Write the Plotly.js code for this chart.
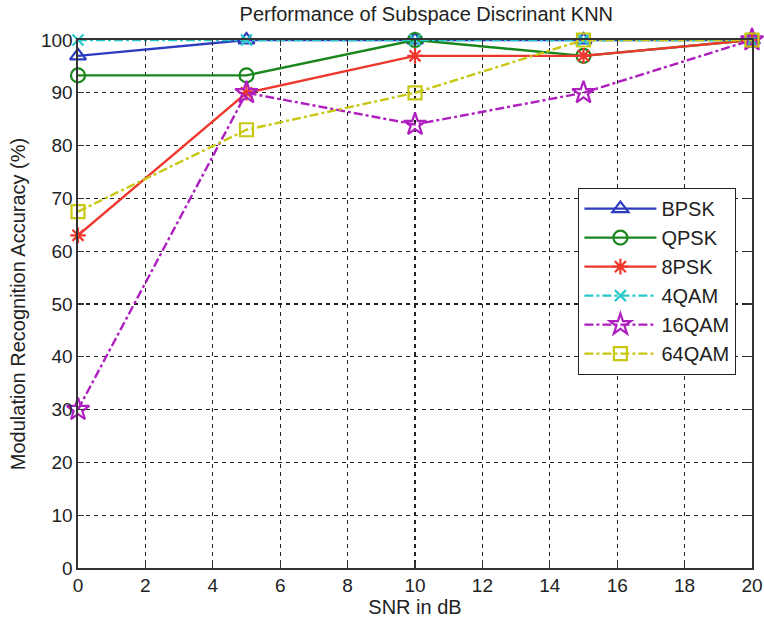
<!DOCTYPE html>
<html>
<head>
<meta charset="utf-8">
<script src="https://cdn.plot.ly/plotly-3.0.1.min.js"></script>
<style>html,body{margin:0;padding:0;background:#fff;}#chart{width:764px;height:628px;}</style>
</head>
<body>
<div id="chart"></div>
<script>
const snr = [0, 5, 10, 15, 20];
const bpsk = [97, 100, 100, 100, 100];
const qpsk = [93.3, 93.3, 100, 97, 100];
const psk8 = [63, 90, 97, 97, 100];
const qam4 = [100, 100, 100, 100, 100];
const qam16 = [30, 90, 84, 90, 100];
const qam64 = [67.5, 83, 90, 100, 100];
const xTicks = [0, 2, 4, 6, 8, 10, 12, 14, 16, 18, 20];
const yTicks = [0, 10, 20, 30, 40, 50, 60, 70, 80, 90, 100];

const NARROW = '"Liberation Sans Narrow", "Liberation Sans", Arial, sans-serif';
const REG = '"Liberation Sans", Arial, sans-serif';

function tr(name, y, color, dash, symbol, msize) {
  return {
    x: snr, y: y, name: name, type: 'scatter', mode: 'lines+markers',
    line: {color: color, width: 2.4, dash: dash},
    marker: {symbol: symbol, size: msize, color: color, line: {color: color, width: 2.2}},
    cliponaxis: false
  };
}

const data = [
  tr('BPSK', bpsk, 'rgb(45,60,190)', 'solid', 'triangle-up-open', 14),
  tr('QPSK', qpsk, 'rgb(25,135,30)', 'solid', 'circle-open', 14),
  tr('8PSK', psk8, 'rgb(240,55,45)', 'solid', 'asterisk-open', 13),
  tr('4QAM', qam4, 'rgb(40,200,200)', 'dashdot', 'x-thin-open', 11),
  tr('16QAM', qam16, 'rgb(175,30,190)', 'dashdot', 'star-open', 17),
  tr('64QAM', qam64, 'rgb(200,200,20)', 'dashdot', 'square-open', 13)
];

const axisCommon = {
  showline: true, linecolor: '#333', linewidth: 1.6, mirror: 'ticks',
  ticks: 'inside', ticklen: 6, tickcolor: '#333', tickwidth: 1.2,
  showgrid: true, gridcolor: '#222', gridwidth: 1.1, griddash: '4px,4px',
  zeroline: false, tickfont: {family: NARROW, size: 19, color: '#222'}
};

const layout = {
  width: 764, height: 628,
  margin: {l: 78, r: 12, t: 40, b: 60},
  paper_bgcolor: '#fff', plot_bgcolor: '#fff',
  title: {text: 'Performance of Subspace Discrinant KNN', x: 0.558, xanchor: 'center', y: 0.977, yanchor: 'middle',
          font: {family: REG, size: 20, color: '#222'}},
  xaxis: Object.assign({}, axisCommon, {
    range: [0, 20], tickvals: xTicks, ticktext: xTicks.map(String),
    title: {text: 'SNR in dB', font: {family: REG, size: 20, color: '#222'}, standoff: 4}
  }),
  yaxis: Object.assign({}, axisCommon, {
    range: [0, 100], tickvals: yTicks, ticktext: yTicks.map(String),
    title: {text: 'Modulation Recognition Accuracy (%)', font: {family: REG, size: 20, color: '#222'}, standoff: 10}
  }),
  showlegend: true,
  legend: {
    x: 0.742, y: 0.72, xanchor: 'left', yanchor: 'top',
    bgcolor: '#fff', bordercolor: '#222', borderwidth: 1.3,
    font: {family: REG, size: 20, color: '#222'}, itemwidth: 72,
    tracegroupgap: 0
  }
};

Plotly.newPlot('chart', data, layout, {displayModeBar: false, staticPlot: true});
</script>
</body>
</html>
